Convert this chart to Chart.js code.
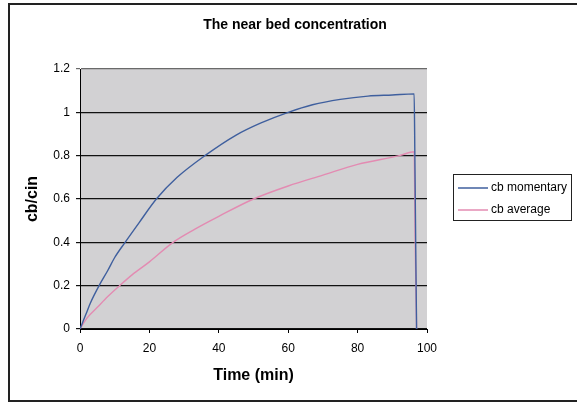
<!DOCTYPE html>
<html>
<head>
<meta charset="utf-8">
<script src="https://cdn.jsdelivr.net/npm/chart.js@4/dist/chart.umd.min.js"></script>
<style>
  html, body { margin: 0; padding: 0; background: #fff; overflow: hidden; }
  #wrap { position: relative; width: 577px; height: 402px; }
  #frame { position: absolute; left: 8px; top: 3px; width: 620px; height: 395px; border: 2px solid #222; pointer-events: none; }
</style>
</head>
<body>
<div id="wrap">
  <canvas id="myChart" width="577" height="402"></canvas>
  <div id="frame"></div>
</div>
<script>
// time in minutes
const momentaryTime = [0, 1, 2, 3, 5.5, 8, 10, 13, 17, 22, 28, 36, 45, 52, 60, 67, 75, 83, 90, 96.3, 96.5, 96.8, 97];
const momentaryValues = [0, 0.04, 0.08, 0.12, 0.2, 0.27, 0.33, 0.4, 0.49, 0.6, 0.7, 0.8, 0.895, 0.95, 1.0, 1.035, 1.06, 1.075, 1.08, 1.085, 0.8, 0.3, 0];

const averageTime = [0, 2, 5, 8, 11.4, 15, 20, 26.8, 33, 40, 50, 60, 70, 80, 92, 96.3, 96.6, 97];
const averageValues = [0, 0.05, 0.1, 0.15, 0.2, 0.25, 0.31, 0.4, 0.46, 0.52, 0.6, 0.66, 0.71, 0.76, 0.8, 0.818, 0.4, 0];

const seriesNames = ["cb momentary", "cb average"];
const seriesColors = ["#3f5f9e", "#e38bb2"];
const xTicks = [0, 20, 40, 60, 80, 100];
const yTicks = [0, 0.2, 0.4, 0.6, 0.8, 1, 1.2];

const FONT = "Arial, 'Liberation Sans', sans-serif";

function toPoints(xs, ys) {
  return xs.map((x, i) => ({ x: x, y: ys[i] }));
}

// grey plot background, title and boxed legend
const decoPlugin = {
  id: "deco",
  beforeDraw(chart) {
    const a = chart.chartArea;
    const ctx = chart.ctx;
    ctx.save();
    ctx.fillStyle = "#d2d1d3";
    ctx.fillRect(a.left, a.top, a.right - a.left, a.bottom - a.top);
    ctx.restore();
  },
  afterDraw(chart) {
    const ctx = chart.ctx;
    ctx.save();
    // title
    ctx.fillStyle = "#000";
    ctx.font = "bold 14px " + FONT;
    ctx.textAlign = "center";
    ctx.textBaseline = "middle";
    ctx.fillText("The near bed concentration", 295, 25);

    // legend
    const bx = 453, by = 174, bw = 118, bh = 46;
    ctx.fillStyle = "#fff";
    ctx.fillRect(bx, by, bw, bh);
    ctx.strokeStyle = "#222";
    ctx.lineWidth = 1;
    ctx.strokeRect(bx + 0.5, by + 0.5, bw, bh);
    ctx.font = "12px " + FONT;
    ctx.textAlign = "left";
    chart.data.datasets.forEach((ds, i) => {
      const y = by + 14 + i * 22;
      ctx.strokeStyle = ds.borderColor;
      ctx.lineWidth = 1.5;
      ctx.beginPath();
      ctx.moveTo(bx + 5, y);
      ctx.lineTo(bx + 35, y);
      ctx.stroke();
      ctx.fillStyle = "#000";
      ctx.fillText(ds.label, bx + 38, y);
    });
    ctx.restore();
  }
};

const ctx = document.getElementById("myChart").getContext("2d");
const myChart = new Chart(ctx, {
  type: "line",
  data: {
    datasets: [
      {
        label: seriesNames[0],
        data: toPoints(momentaryTime, momentaryValues),
        borderColor: seriesColors[0],
        borderWidth: 1.4,
        pointRadius: 0,
        cubicInterpolationMode: "monotone",
        fill: false
      },
      {
        label: seriesNames[1],
        data: toPoints(averageTime, averageValues),
        borderColor: seriesColors[1],
        borderWidth: 1.4,
        pointRadius: 0,
        cubicInterpolationMode: "monotone",
        fill: false
      }
    ]
  },
  options: {
    responsive: false,
    animation: false,
    layout: { padding: { left: 0, top: 69, right: 150, bottom: 0 } },
    plugins: {
      legend: { display: false },
      title: { display: false },
      tooltip: { enabled: false }
    },
    scales: {
      x: {
        type: "linear",
        min: 0,
        max: 100,
        afterBuildTicks: (s) => { s.ticks = xTicks.map(v => ({ value: v })); },
        afterFit: (s) => { s.height = 73; },
        ticks: { color: "#000", padding: 8, font: { family: FONT, size: 12 } },
        grid: { drawOnChartArea: false, drawTicks: true, tickLength: 4, color: "#000" },
        border: { color: "#000", width: 1 },
        title: {
          display: true,
          text: "Time (min)",
          color: "#000",
          font: { family: FONT, size: 16, weight: "bold" },
          padding: { top: 0, bottom: 17 }
        }
      },
      y: {
        min: 0,
        max: 1.2,
        afterBuildTicks: (s) => { s.ticks = yTicks.map(v => ({ value: v })); },
        afterFit: (s) => { s.width = 80; },
        ticks: {
          color: "#000",
          padding: 6,
          font: { family: FONT, size: 12 },
          callback: (v) => String(Math.round(v * 10) / 10)
        },
        grid: {
          drawTicks: true,
          tickLength: 4,
          color: (c) => (c.tick && c.tick.value === 1.2 ? "#6a6a6a" : "#111"),
          lineWidth: 1.2
        },
        border: { color: "#000", width: 1 },
        title: {
          display: true,
          text: "cb/cin",
          color: "#000",
          font: { family: FONT, size: 16, weight: "bold" },
          padding: { top: 23, bottom: 0 }
        }
      }
    }
  },
  plugins: [decoPlugin]
});
</script>
</body>
</html>
